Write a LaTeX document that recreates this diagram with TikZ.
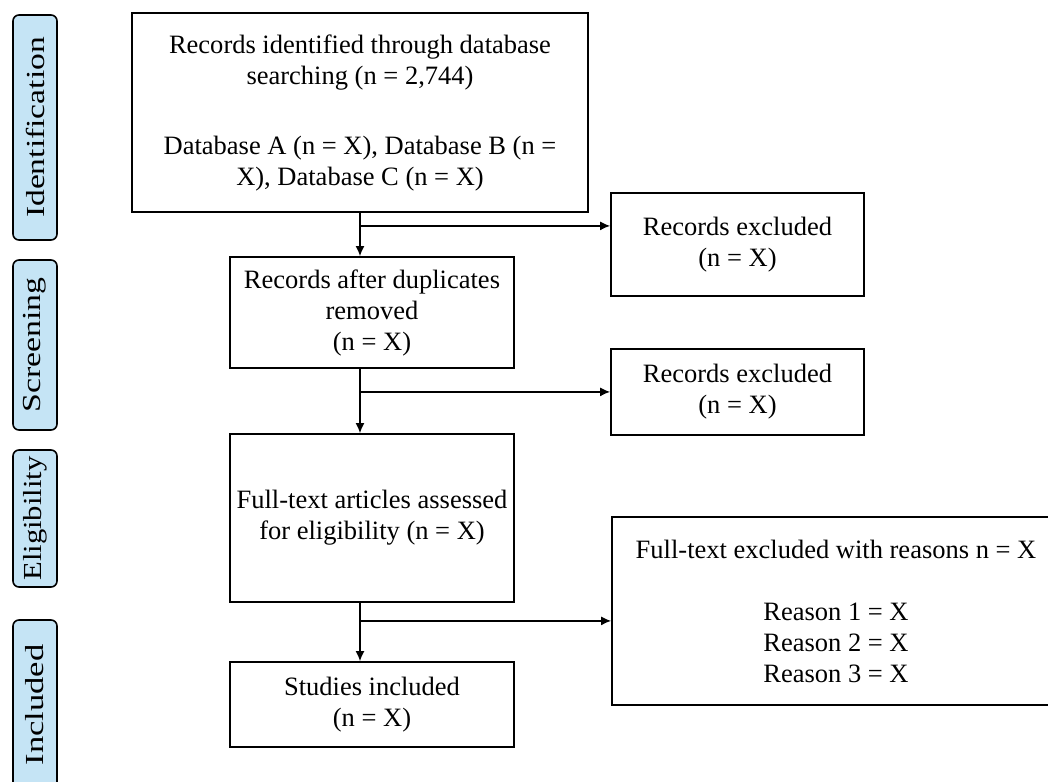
\documentclass[tikz,border=0pt]{standalone}
\usepackage{fontspec}
\setmainfont{Liberation Serif}
\usepackage{graphicx}
\usetikzlibrary{arrows.meta}
\usetikzlibrary{calc}
\usepackage{xcolor}
\definecolor{phaseblue}{RGB}{197,228,245}

\begin{document}
\begin{tikzpicture}[x=1pt,y=-1pt,
    box/.style={draw, line width=1.8pt, align=center, inner sep=0pt,
      font=\fontsize{26.5}{31}\selectfont},
    phase/.style={draw, line width=1.6pt, fill=phaseblue, rounded corners=6pt,
      rotate=90, inner sep=0pt, minimum height=44pt,
      font=\fontsize{26}{30}\selectfont},
    link/.style={line width=1.3pt, -{Latex[length=10pt,width=9pt]}}]

        \useasboundingbox (0,0) rectangle (1048,781);

        % Phases
        \foreach \name/\y/\len/\sx in {Identification/127.5/225/1.29, Screening/345/170/1.3,
                                       Eligibility/518.5/137/1.18, Included/705/170/1.33}
        {
          \node[phase, minimum width=\len pt] (p\name) at (35,\y) {\scalebox{\sx}[1]{\name}};
        }

        % Main column
        \node[box, minimum width=456pt, minimum height=199pt] (ident) at (360,112.5)
          {Records identified through database\\searching (n = 2,744)\\[39pt]
           Database A (n = X), Database B (n =\\X), Database C (n = X)};
        \node[box, minimum width=284pt, minimum height=111pt] (dedup) at (372,312.5)
          {Records after duplicates\\removed\\(n = X)};
        \node[box, minimum width=284pt, minimum height=168pt] (full) at (372,518)
          {Full-text articles assessed\\for eligibility (n = X)};
        \node[box, minimum width=284pt, minimum height=85pt] (incl) at (372,704.5)
          {Studies included\\(n = X)};

        % Exclusions
        \node[box, minimum width=253pt, minimum height=103pt] (excl1) at (737.5,244.5)
          {Records excluded\\(n = X)};
        \node[box, minimum width=253pt, minimum height=86pt] (excl2) at (737.5,392)
          {Records excluded\\(n = X)};
        \node[box, minimum width=448pt, minimum height=188pt] (excl3) at (836,611)
          {Full-text excluded with reasons n = X\\[31pt]
           Reason 1 = X\\Reason 2 = X\\Reason 3 = X};

        % Arrows
        \draw[link] (ident.south) -- (ident.south |- dedup.north);
        \draw[link] (ident.south |- dedup.south) -- (ident.south |- full.north);
        \draw[link] (ident.south |- full.south) -- (ident.south |- incl.north);

        \coordinate (s1) at ($(ident.south)+(0,13)$);
        \coordinate (s2) at ($(ident.south |- dedup.south)+(0,23)$);
        \coordinate (s3) at ($(ident.south |- full.south)+(0,18)$);
        \draw[link] (s1) -- (s1 -| excl1.west);
        \draw[link] (s2) -- (s2 -| excl2.west);
        \draw[link] (s3) -- (s3 -| excl3.west);
    \end{tikzpicture}
\end{document}
